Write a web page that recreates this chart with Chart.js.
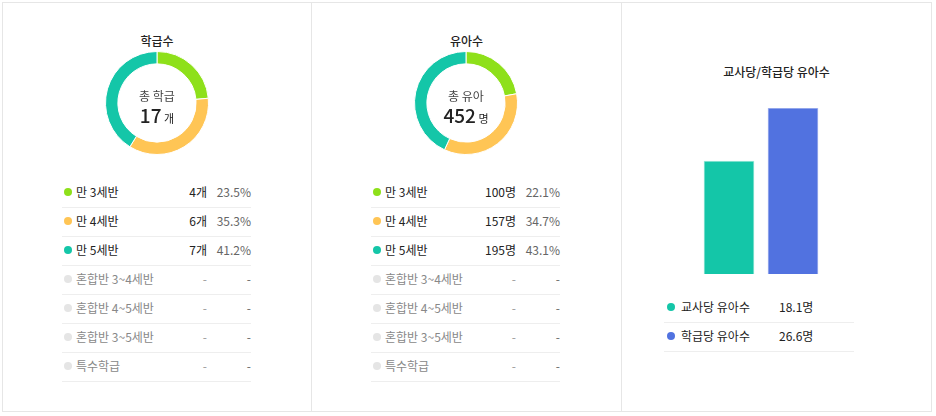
<!DOCTYPE html>
<html><head><meta charset="utf-8">
<script src="https://cdn.jsdelivr.net/npm/chart.js@4"></script>
<style>
body{margin:0;width:936px;height:416px;background:#fff;font-family:"Noto Sans CJK KR","Noto Sans",sans-serif;color:#222;overflow:hidden}
.wrap{position:absolute;left:2px;top:2px;width:930px;height:410px;border:1px solid #e6e6e6;box-sizing:border-box}
.panel{position:absolute;top:0;height:100%;border-right:1px solid #e6e6e6;box-sizing:border-box}
.title{position:absolute;width:100%;text-align:center;font-size:12px;font-weight:500}
.dbox{position:absolute;width:104px;height:104px}
.dbox canvas{position:absolute;left:0;top:0}
.center{position:absolute;left:0;width:100%;text-align:center}
.row{position:absolute;height:29px;border-bottom:1px solid #eee;box-sizing:border-box;font-size:12px;line-height:26px}
.dot{position:absolute;left:0;top:9px;width:8px;height:8px;border-radius:50%}
.lab{position:absolute;left:14px}
.cnt{position:absolute;text-align:right}
.pct{position:absolute;text-align:right;color:#666}
</style></head><body>
<div class="wrap">
<div class="panel" style="left:0;width:309px" id="p0"></div>
<div class="panel" style="left:309px;width:310px" id="p1"></div>
<div class="panel" style="left:619px;width:309px;border-right:none" id="p2"></div>
</div>
<script>
const categories = ["만 3세반","만 4세반","만 5세반","혼합반 3~4세반","혼합반 4~5세반","혼합반 3~5세반","특수학급"];
const classCounts = [4,6,7,null,null,null,null];
const classPct = ["23.5%","35.3%","41.2%","-","-","-","-"];
const childCounts = [100,157,195,null,null,null,null];
const childPct = ["22.1%","34.7%","43.1%","-","-","-","-"];
const catColors = ["#8ee01a","#ffc555","#14c6a8","#e5e5e5","#e5e5e5","#e5e5e5","#e5e5e5"];
const ratioLabels = ["교사당 유아수","학급당 유아수"];
const ratioValues = [18.1,26.6];
const ratioColors = ["#14c6a8","#5172e0"];

function donutPanel(id, title, subtitle, total, unit, counts, pcts, cntUnit){
    const p = document.getElementById(id);
    let html = `<div class="title" style="top:29px">${title}</div>
    <div class="dbox" style="left:102px;top:48px"><canvas id="${id}c" width="104" height="104"></canvas>
      <div class="center" style="top:36px;font-size:12px;color:#444">${subtitle}</div>
      <div class="center" style="top:50px;font-size:19px;font-weight:500">${total}<span style="font-size:11px;font-weight:normal"> ${unit}</span></div></div>`;
    categories.forEach((c,i)=>{
        const gray = counts[i] === null;
        html += `<div class="row" style="left:59px;top:${176+i*29}px;width:189px">
        <div class="dot" style="left:2px;background:${catColors[i]}"></div>
        <div class="lab" style="${gray?'color:#888':''}">${c}</div>
        <div class="cnt" style="right:44px;${gray?'color:#999':''}">${gray?'-':counts[i]+cntUnit}</div>
        <div class="pct" style="right:0">${pcts[i]}</div></div>`;
    });
    p.innerHTML = html;
    new Chart(document.getElementById(id+"c"),{
        type:"doughnut",
        data:{labels:categories.slice(0,3),datasets:[{data:counts.slice(0,3),backgroundColor:catColors.slice(0,3),borderColor:"#fff",borderWidth:1}]},
        options:{responsive:false,animation:false,cutout:"76%",plugins:{legend:{display:false},tooltip:{enabled:false}}}
    });
}

donutPanel("p0","학급수","총 학급",17,"개",classCounts,classPct,"개");
donutPanel("p1","유아수","총 유아",452,"명",childCounts,childPct,"명");

// ===== 막대 =====
const p2 = document.getElementById("p2");
let h = `<div class="title" style="top:60px">교사당/학급당 유아수</div>
<div style="position:absolute;left:75px;top:105px;width:128px;height:166px"><canvas id="barc" width="128" height="166"></canvas></div>`;
ratioLabels.forEach((l,i)=>{
    h += `<div class="row" style="left:42px;top:291px;width:190px;top:${291+i*29}px">
    <div class="dot" style="left:3px;background:${ratioColors[i]}"></div>
    <div class="lab" style="left:17px">${l}</div>
    <div class="cnt" style="left:115px">${ratioValues[i]}명</div></div>`;
});
p2.innerHTML = h;
new Chart(document.getElementById("barc"),{
    type:"bar",
    data:{labels:ratioLabels,datasets:[{data:ratioValues,backgroundColor:ratioColors,borderColor:["#9fe8da","#a9b8ef"],borderWidth:1,barThickness:50}]},
    options:{responsive:false,animation:false,layout:{padding:0},
        scales:{x:{display:false},y:{display:false,min:0,max:26.6}},
        plugins:{legend:{display:false},tooltip:{enabled:false}}}
});
</script>
</body></html>
